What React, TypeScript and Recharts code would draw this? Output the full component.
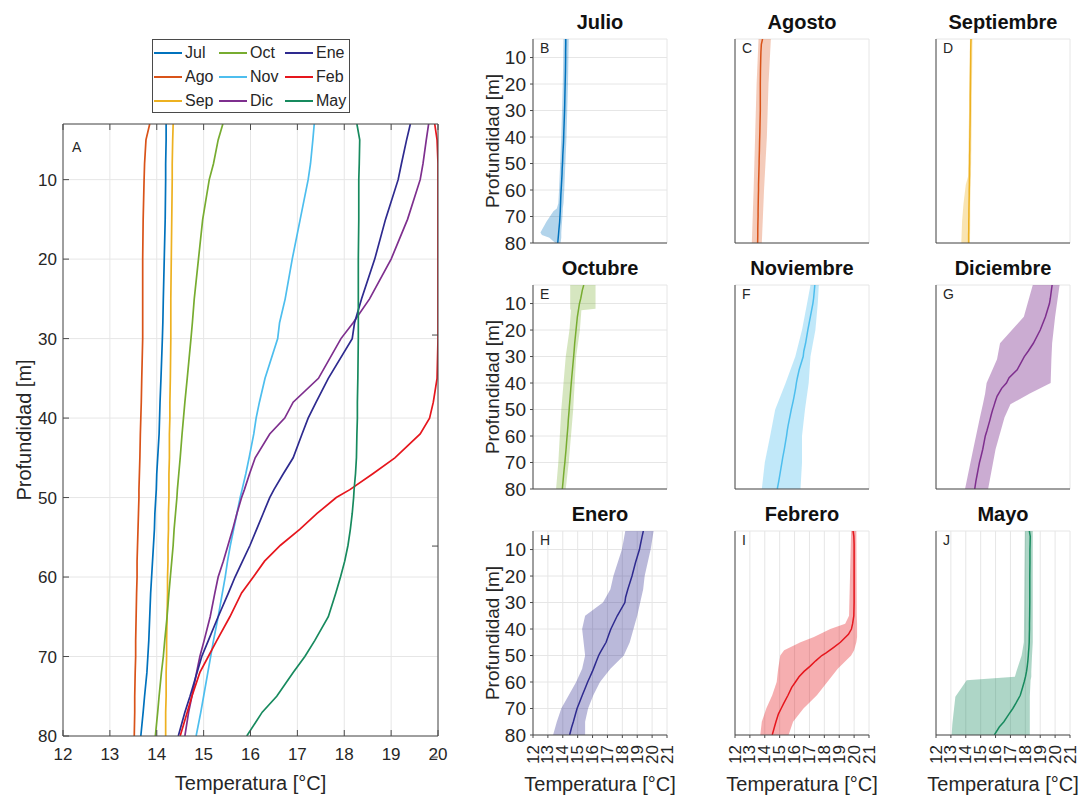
import React from "react";
import { ComposedChart, Line, Area, XAxis, YAxis, CartesianGrid, Legend } from "recharts";

// depth grid (m) shared by all monthly mean profiles
const DEPTHS = [3, 5, 8, 10, 15, 20, 25, 28, 30, 35, 38, 40, 42, 45, 47, 49, 50, 52, 54, 56, 58, 60, 62, 65, 68, 70, 72, 75, 77, 80];

// mean temperature profiles (°C)
const jul = [14.2, 14.2, 14.19, 14.19, 14.18, 14.16, 14.14, 14.13, 14.12, 14.09, 14.07, 14.06, 14.05, 14.02, 14.0, 13.99, 13.98, 13.96, 13.95, 13.93, 13.91, 13.89, 13.87, 13.85, 13.83, 13.81, 13.79, 13.74, 13.71, 13.66];
const ago = [13.85, 13.77, 13.74, 13.73, 13.71, 13.7, 13.7, 13.7, 13.7, 13.68, 13.67, 13.66, 13.65, 13.64, 13.63, 13.62, 13.62, 13.61, 13.6, 13.59, 13.58, 13.58, 13.57, 13.56, 13.55, 13.55, 13.54, 13.53, 13.53, 13.52];
const sep = [14.35, 14.34, 14.33, 14.33, 14.32, 14.31, 14.3, 14.3, 14.3, 14.29, 14.28, 14.28, 14.27, 14.27, 14.26, 14.26, 14.26, 14.25, 14.25, 14.24, 14.24, 14.23, 14.23, 14.22, 14.21, 14.21, 14.2, 14.2, 14.19, 14.19];
const oct = [15.41, 15.31, 15.21, 15.12, 14.98, 14.89, 14.8, 14.76, 14.73, 14.65, 14.6, 14.57, 14.54, 14.5, 14.47, 14.44, 14.43, 14.4, 14.37, 14.35, 14.32, 14.29, 14.26, 14.22, 14.17, 14.14, 14.1, 14.05, 14.02, 13.97];
const nov = [17.36, 17.33, 17.28, 17.23, 17.06, 16.89, 16.74, 16.62, 16.58, 16.31, 16.19, 16.12, 16.07, 15.97, 15.9, 15.82, 15.78, 15.71, 15.64, 15.57, 15.51, 15.46, 15.4, 15.31, 15.21, 15.15, 15.09, 15.0, 14.94, 14.84];
const dic = [19.8, 19.75, 19.68, 19.62, 19.35, 19.0, 18.54, 18.19, 17.93, 17.45, 16.91, 16.73, 16.41, 16.1, 15.98, 15.87, 15.81, 15.71, 15.62, 15.52, 15.42, 15.31, 15.24, 15.14, 15.01, 14.92, 14.85, 14.75, 14.68, 14.6];
const ene = [19.41, 19.33, 19.22, 19.15, 18.88, 18.65, 18.37, 18.22, 18.17, 17.66, 17.4, 17.23, 17.1, 16.91, 16.7, 16.5, 16.41, 16.27, 16.13, 15.99, 15.83, 15.67, 15.53, 15.31, 15.1, 14.96, 14.86, 14.71, 14.6, 14.46];
const feb = [19.93, 19.98, 20.0, 20.0, 20.0, 20.0, 20.0, 20.0, 20.0, 19.98, 19.9, 19.82, 19.62, 19.08, 18.61, 18.12, 17.83, 17.42, 17.05, 16.64, 16.3, 16.06, 15.81, 15.56, 15.28, 15.1, 14.92, 14.75, 14.65, 14.5];
const may = [18.27, 18.33, 18.32, 18.31, 18.31, 18.3, 18.3, 18.3, 18.3, 18.29, 18.28, 18.28, 18.27, 18.26, 18.24, 18.21, 18.2, 18.17, 18.13, 18.08, 18.01, 17.92, 17.82, 17.66, 17.37, 17.16, 16.91, 16.56, 16.25, 15.92];

// min/max envelopes: [depth, min, max]
const julBand = [[3, 14.05, 14.4], [20, 14.0, 14.35], [40, 13.9, 14.25], [60, 13.75, 14.1], [65, 13.7, 14.05], [67, 13.6, 14.0], [68, 13.37, 14.0], [72, 12.9, 13.95], [76, 12.5, 13.9], [77, 12.6, 13.9], [78, 13.1, 13.9], [80, 13.5, 13.85]];
const agoBand = [[3, 13.58, 14.41], [20, 13.45, 14.25], [40, 13.35, 14.14], [60, 13.25, 13.95], [80, 13.13, 13.8]];
const sepBand = [[3, 14.28, 14.45], [30, 14.22, 14.4], [55, 14.15, 14.35], [58, 14.0, 14.33], [65, 13.85, 14.3], [72, 13.75, 14.3], [80, 13.7, 14.28]];
const octBand = [[3, 14.5, 16.2], [12, 14.5, 16.2], [12.5, 14.55, 15.25], [20, 14.45, 15.15], [30, 14.2, 14.9], [50, 13.9, 14.7], [70, 13.7, 14.4], [80, 13.55, 14.2]];
const novBand = [[3, 17.07, 17.63], [10, 16.84, 17.56], [20, 16.5, 17.4], [30, 16.05, 17.07], [40, 15.4, 16.95], [50, 14.7, 16.7], [60, 14.36, 16.5], [70, 14.0, 16.5], [80, 13.8, 16.4]];
const dicBand = [[3, 18.5, 20.3], [15, 17.9, 20.0], [25, 16.3, 19.8], [31, 16.1, 19.75], [40, 15.4, 19.7], [44, 15.3, 18.3], [48, 15.15, 17.0], [53, 14.95, 16.6], [65, 14.5, 16.0], [80, 13.95, 15.5]];
const eneBand = [[3, 18.2, 20.1], [10, 17.97, 19.9], [20, 17.4, 19.5], [25, 17.2, 19.4], [30, 16.7, 19.2], [35, 15.5, 19.0], [40, 15.3, 18.75], [45, 15.4, 18.5], [50, 15.5, 18.1], [55, 15.3, 17.2], [60, 14.9, 16.5], [65, 14.4, 16.05], [70, 13.9, 15.7], [75, 13.6, 15.5], [80, 13.35, 15.5]];
const febBand = [[3, 19.8, 20.15], [35, 19.66, 20.18], [38, 19.4, 20.2], [40, 18.4, 20.2], [43, 17.3, 20.2], [45, 16.4, 20.15], [48, 15.3, 20.0], [50, 15.04, 19.8], [55, 14.9, 18.9], [60, 14.8, 18.2], [65, 14.5, 17.5], [70, 14.1, 16.6], [75, 13.8, 15.9], [80, 13.7, 15.6]];
const mayBand = [[3, 17.97, 18.5], [45, 17.9, 18.5], [50, 17.75, 18.45], [56, 17.4, 18.4], [58, 17.3, 18.4], [59.3, 14.06, 18.35], [65.6, 13.3, 18.3], [75.8, 13.1, 18.3], [80, 13.05, 18.3]];

const Y_TICKS = [10, 20, 30, 40, 50, 60, 70, 80];
const MAIN_X_TICKS = [12, 13, 14, 15, 16, 17, 18, 19, 20];
const SMALL_X_TICKS = [12, 13, 14, 15, 16, 17, 18, 19, 20, 21];

const MONTHS = [
  { key: "jul", short: "Jul", name: "Julio", letter: "B", color: "#0072BD", mean: jul, band: julBand, op: 0.3 },
  { key: "ago", short: "Ago", name: "Agosto", letter: "C", color: "#D95319", mean: ago, band: agoBand, op: 0.3 },
  { key: "sep", short: "Sep", name: "Septiembre", letter: "D", color: "#EDB120", mean: sep, band: sepBand, op: 0.35 },
  { key: "oct", short: "Oct", name: "Octubre", letter: "E", color: "#77AC30", mean: oct, band: octBand, op: 0.3 },
  { key: "nov", short: "Nov", name: "Noviembre", letter: "F", color: "#4DBEEE", mean: nov, band: novBand, op: 0.35 },
  { key: "dic", short: "Dic", name: "Diciembre", letter: "G", color: "#7E2F8E", mean: dic, band: dicBand, op: 0.4 },
  { key: "ene", short: "Ene", name: "Enero", letter: "H", color: "#2E2A8F", mean: ene, band: eneBand, op: 0.33 },
  { key: "feb", short: "Feb", name: "Febrero", letter: "I", color: "#E6161D", mean: feb, band: febBand, op: 0.35 },
  { key: "may", short: "May", name: "Mayo", letter: "J", color: "#178A5E", mean: may, band: mayBand, op: 0.35 },
];

const meanTable = DEPTHS.map((d, i) => {
  const row: any = { d };
  MONTHS.forEach((m) => (row[m.key] = m.mean[i]));
  return row;
});

const FONT = '"Liberation Sans", Arial, sans-serif';
const TXT = "#262626";
const AX = "#4a4a4a";
const GRID = "#e6e6e6";

const COL_X = [533, 735, 936];
const ROW_Y = [39, 285, 531];

const LegendBox = () => (
  <div style={{ boxSizing: "border-box", width: 198, height: 74, border: `1px solid ${AX}`, background: "#fff", display: "grid", gridTemplateColumns: "65px 66px 65px", gridTemplateRows: "repeat(3, 24px)", gridAutoFlow: "column", paddingTop: 1 }}>
    {MONTHS.map((m) => (
      <div key={m.key} style={{ display: "flex", alignItems: "center", fontSize: 16, color: TXT, fontFamily: FONT }}>
        <span style={{ display: "inline-block", width: 28, height: 2, background: m.color, marginLeft: 1, marginRight: 3 }} />
        {m.short}
      </div>
    ))}
  </div>
);

const RotTick = (props: any) => {
  const { x, y, payload } = props;
  return (
    <text x={x} y={y} transform={`rotate(-90 ${x} ${y})`} textAnchor="end" dominantBaseline="central" fontSize={17} fill={TXT}>
      {payload.value}
    </text>
  );
};

const MainChart = () => (
  <div style={{ position: "absolute", left: 0, top: 0 }}>
    <ComposedChart width={460} height={801} layout="vertical" data={meanTable} margin={{ top: 123, right: 21, left: 0, bottom: 5 }}>
      <CartesianGrid stroke={GRID} />
      <XAxis type="number" domain={[12, 20]} ticks={MAIN_X_TICKS} interval={0} allowDataOverflow height={60}
        tickSize={-6} tickMargin={18} stroke={AX} tick={{ fontSize: 17, fill: TXT }}
        label={{ value: "Temperatura [°C]", position: "insideBottom", offset: 6, fontSize: 20, fill: TXT }} />
      <XAxis xAxisId="top" orientation="top" type="number" domain={[12, 20]} ticks={MAIN_X_TICKS} interval={0} allowDataOverflow height={1}
        tickSize={-6} stroke={AX} tickFormatter={() => ""} />
      <YAxis type="number" dataKey="d" domain={[3, 80]} ticks={Y_TICKS} interval={0} allowDataOverflow width={63}
        tickSize={-6} tickMargin={12} stroke={AX} tick={{ fontSize: 17, fill: TXT }}
        label={{ value: "Profundidad [m]", angle: -90, position: "center", dx: -8, fontSize: 20, fill: TXT }} />
      <YAxis yAxisId="right" orientation="right" type="number" domain={[3, 80]} ticks={Y_TICKS} interval={0} allowDataOverflow width={1}
        tickSize={-6} stroke={AX} tickFormatter={() => ""} />
      {MONTHS.map((m) => (
        <Line key={m.key} dataKey={m.key} type="linear" stroke={m.color} strokeWidth={1.7} dot={false} isAnimationActive={false} />
      ))}
      <Legend layout="vertical" align="center" verticalAlign="middle" content={() => <LegendBox />}
        wrapperStyle={{ left: 152, top: 39, width: 198, height: 74 }} />
    </ComposedChart>
    <div style={{ position: "absolute", left: 72, top: 140, fontSize: 14, lineHeight: "14px", color: TXT }}>A</div>
  </div>
);

const Panel = ({ m, idx }: { m: (typeof MONTHS)[number]; idx: number }) => {
  const col = idx % 3;
  const row = Math.floor(idx / 3);
  const plotLeft = COL_X[col];
  const plotTop = ROW_Y[row];
  const bottomRow = row === 2;
  const firstCol = col === 0;
  const xH = bottomRow ? 60 : 14;
  const W = 60 + 134 + 8;
  const H = 8 + 204 + xH;
  const bandRows = m.band.map(([d, lo, hi]) => ({ d, r: [lo, hi] }));
  return (
    <div style={{ position: "absolute", left: plotLeft - 60, top: plotTop - 8, width: W, height: H }}>
      <ComposedChart width={W} height={H} layout="vertical" margin={{ top: 8, right: 8, left: 0, bottom: 0 }}>
        <CartesianGrid stroke={GRID} />
        <XAxis type="number" domain={[12, 21]} ticks={SMALL_X_TICKS} interval={0} allowDataOverflow height={xH} tickSize={3} tickMargin={7} stroke={AX}
          tick={bottomRow ? <RotTick /> : false}
          label={bottomRow ? { value: "Temperatura [°C]", position: "insideBottom", offset: 4, fontSize: 20, fill: TXT } : undefined} />
        <YAxis type="number" dataKey="d" domain={[3, 80]} ticks={Y_TICKS} interval={0} allowDataOverflow width={60} tickSize={3} tickMargin={4} stroke={AX}
          tick={firstCol ? { fontSize: 19, fill: TXT } : false}
          label={firstCol ? { value: "Profundidad [m]", angle: -90, position: "center", dx: -11, fontSize: 19, fill: TXT } : undefined} />
        <Area data={bandRows} dataKey="r" type="linear" stroke="none" fill={m.color} fillOpacity={m.op} isAnimationActive={false} />
        <Line data={meanTable} dataKey={m.key} type="linear" stroke={m.color} strokeWidth={1.5} dot={false} isAnimationActive={false} />
      </ComposedChart>
      <div style={{ position: "absolute", left: 0, width: W + 8, top: -19, paddingLeft: 60, boxSizing: "border-box", textAlign: "center", fontSize: 20, lineHeight: "20px", fontWeight: "bold", color: "#111" }}>
        <div style={{ width: 134 }}>{m.name}</div>
      </div>
      <div style={{ position: "absolute", left: 67, top: 10, fontSize: 14, lineHeight: "14px", color: TXT }}>{m.letter}</div>
    </div>
  );
};

export default function App() {
  return (
    <div style={{ position: "absolute", left: 0, top: 0, width: 1086, height: 801, background: "#fff", fontFamily: FONT, overflow: "hidden" }}>
      <MainChart />
      {MONTHS.map((m, i) => (
        <Panel key={m.key} m={m} idx={i} />
      ))}
    </div>
  );
}
